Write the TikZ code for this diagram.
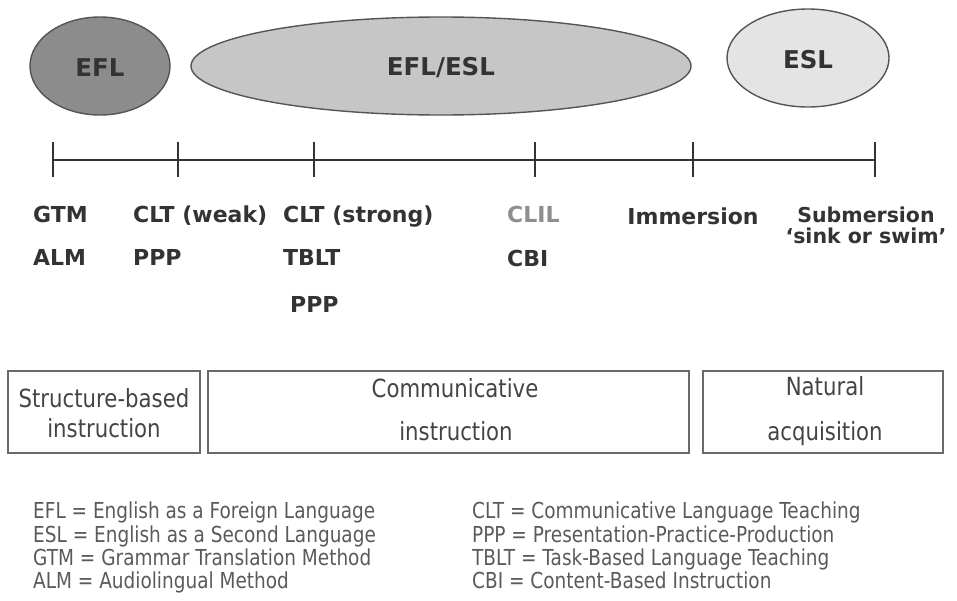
\documentclass[tikz,border=0pt]{standalone}
\usepackage{fontspec}
\usetikzlibrary{shapes.geometric}
\setmainfont{DejaVu Sans}
\newfontfamily\lblfont{DejaVu Sans}
\newfontfamily\boxfont[FakeStretch=0.85]{DejaVu Sans}
\newfontfamily\legfont[FakeStretch=0.84]{DejaVu Sans}
\definecolor{txt}{HTML}{333333}
\definecolor{legtxt}{HTML}{5A5A5A}
\definecolor{boxtxt}{HTML}{444444}
\definecolor{efl}{HTML}{8C8C8C}
\definecolor{mid}{HTML}{C6C6C6}
\definecolor{esl}{HTML}{E4E4E4}
\definecolor{edge}{HTML}{555555}
\definecolor{boxedge}{HTML}{6A6A6A}
\definecolor{clilc}{HTML}{8E8E8E}
\begin{document}
\begin{tikzpicture}[x=1pt,y=-1pt,
  blob/.style={ellipse, draw=edge, line width=1.4pt, inner sep=0pt},
  blobtxt/.style={font=\lblfont\fontsize{24.5}{28}\selectfont\bfseries, text=txt},
  lbl/.style={anchor=base west, inner sep=0pt, font=\lblfont\fontsize{22}{25}\selectfont\bfseries, text=txt},
  lblc/.style={lbl, anchor=base},
  smallc/.style={lblc, font=\lblfont\fontsize{20.5}{24}\selectfont\bfseries},
  tickmark/.style={line width=2.2pt, draw=txt},
  axis/.style={line width=2.8pt, draw=txt},
  catbox/.style={draw=boxedge, line width=1.6pt, inner sep=0pt},
  boxlbl/.style={anchor=base, inner sep=0pt, font=\boxfont\fontsize{25}{28}\selectfont, text=boxtxt},
  leg/.style={anchor=base west, inner sep=0pt, font=\legfont\fontsize{22}{24}\selectfont, text=legtxt}
]
\useasboundingbox (0,0) rectangle (957,600);

% ellipses
\node[blob, fill=efl, minimum width=140pt, minimum height=98pt] (eEFL) at (100,66) {};
\node[blob, fill=mid, minimum width=500pt, minimum height=98pt] (eMID) at (441,66) {};
\node[blob, fill=esl, minimum width=162pt, minimum height=98pt] (eESL) at (808,58) {};
\node[blobtxt] (tEFL) at (100,68) {EFL};
\node[blobtxt] (tMID) at (441,68) {EFL/ESL};
\node[blobtxt] (tESL) at (808,60) {ESL};

% timeline
\coordinate (k1) at (53,160);
\coordinate (k2) at (178,160);
\coordinate (k3) at (314,160);
\coordinate (k4) at (535,160);
\coordinate (k5) at (693,160);
\coordinate (k6) at (875,160);
\draw[axis] (k1) -- (k6);
\foreach \k in {k1,k2,k3,k4,k5,k6}{
  \draw[tickmark] ([yshift=-17pt]\k) -- ([yshift=18pt]\k);
}

% labels
\node[lbl] (gtm) at (33,222) {GTM};
\node[lbl] (alm) at (33,265) {ALM};
\node[lbl] (cltw) at (133,222) {CLT (weak)};
\node[lbl] (ppp1) at (133,265) {PPP};
\node[lbl] (clts) at (283,222) {CLT (strong)};
\node[lbl] (tblt) at (283,265) {TBLT};
\node[lbl] (ppp2) at (290,312) {PPP};
\node[lbl, text=clilc] (clil) at (507,222) {CLIL};
\node[lbl] (cbi) at (507,266) {CBI};
\node[lblc] (imm) at (693,224) {Immersion};
\node[smallc] (sub) at (866,222) {Submersion};
\node[smallc] (sink) at (866,243) {‘sink or swim’};

% category boxes
\draw[catbox] (8,371) rectangle (200,453);
\draw[catbox] (208,371) rectangle (689,453);
\draw[catbox] (703,371) rectangle (943,453);
\node[boxlbl] (sb1) at (104,407) {Structure-based};
\node[boxlbl] (sb2) at (104,437) {instruction};
\node[boxlbl] (ci1) at (455,397) {Communicative};
\node[boxlbl] (ci2) at (456,440) {instruction};
\node[boxlbl] (na1) at (825,395) {Natural};
\node[boxlbl] (na2) at (825,440) {acquisition};

% legend
\node[leg] (l1) at (33,518) {EFL = English as a Foreign Language};
\node[leg] (l2) at (33,542) {ESL = English as a Second Language};
\node[leg] (l3) at (33,565) {GTM = Grammar Translation Method};
\node[leg] (l4) at (33,588) {ALM = Audiolingual Method};
\node[leg] (r1) at (472,518) {CLT = Communicative Language Teaching};
\node[leg] (r2) at (472,542) {PPP = Presentation-Practice-Production};
\node[leg] (r3) at (472,565) {TBLT = Task-Based Language Teaching};
\node[leg] (r4) at (472,588) {CBI = Content-Based Instruction};
\end{tikzpicture}
\end{document}
